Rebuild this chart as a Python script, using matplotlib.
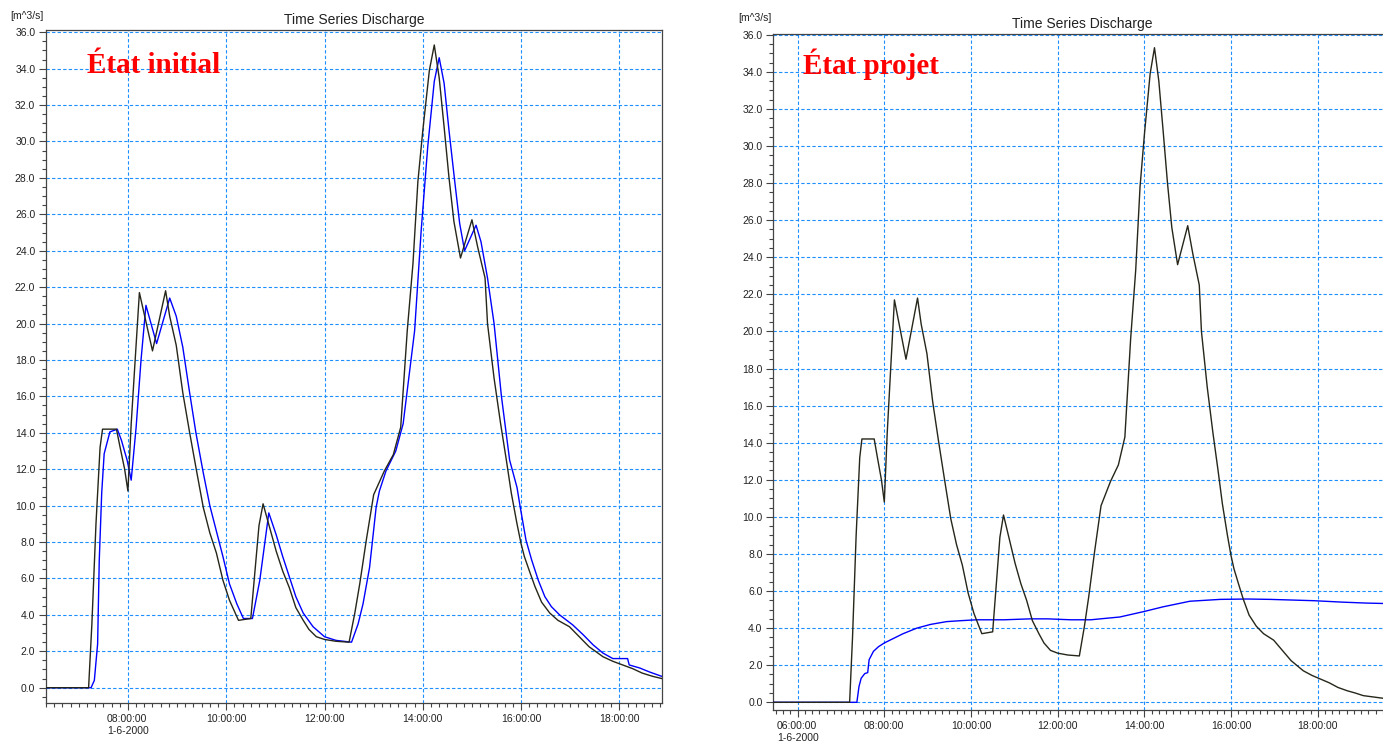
import numpy as np
import matplotlib
matplotlib.use("Agg")
import matplotlib.pyplot as plt
from matplotlib.ticker import MultipleLocator, FuncFormatter

# Inflow hydrograph (black), same in both panels
inflow_times = ["05:00", "07:12", "07:16", "07:21", "07:26", "07:29", "07:46", "07:50",
                "07:56", "08:00", "08:04", "08:08", "08:14", "08:30", "08:46", "08:51",
                "08:59", "09:07", "09:15", "09:23", "09:32", "09:40", "09:48", "09:56",
                "10:04", "10:15", "10:30", "10:40", "10:45", "10:53", "11:01", "11:09",
                "11:17", "11:25", "11:34", "11:41", "11:50", "12:00", "12:14", "12:30",
                "12:37", "12:43", "12:51", "13:00", "13:07", "13:13", "13:24", "13:33",
                "13:41", "13:48", "13:54", "14:00", "14:08", "14:14", "14:20", "14:26",
                "14:32", "14:38", "14:46", "15:00", "15:07", "15:16", "15:19", "15:27",
                "15:35", "15:42", "15:48", "15:55", "16:00", "16:04", "16:11", "16:17",
                "16:25", "16:35", "16:45", "16:59", "17:11", "17:23", "17:40", "17:52",
                "18:04", "18:16", "18:28", "18:41", "18:52", "19:03", "19:30", "19:45"]
inflow_q = [0.0, 0.0, 3.5, 9.0, 13.2, 14.2, 14.2, 13.3,
            12.0, 10.8, 14.5, 17.4, 21.7, 18.5, 21.8, 20.4,
            18.8, 16.2, 14.1, 12.1, 9.9, 8.5, 7.4, 5.9,
            4.8, 3.7, 3.8, 8.9, 10.1, 8.8, 7.5, 6.4,
            5.5, 4.4, 3.7, 3.2, 2.8, 2.65, 2.55, 2.5,
            4.1, 5.7, 8.1, 10.6, 11.3, 11.9, 12.8, 14.3,
            19.6, 23.3, 27.8, 30.6, 33.9, 35.3, 33.5, 30.8,
            28.0, 25.6, 23.6, 25.7, 24.2, 22.5, 20.0, 17.0,
            14.5, 12.5, 10.7, 9.0, 7.9, 7.2, 6.3, 5.55,
            4.7, 4.1, 3.7, 3.35, 2.8, 2.25, 1.7, 1.45,
            1.25, 1.05, 0.8, 0.62, 0.5, 0.36, 0.22, 0.18]

# Outflow, initial state (blue, left)
initial_times = ["05:00", "07:15", "07:19", "07:23", "07:25", "07:28", "07:31", "07:38",
                 "07:47", "07:52", "07:59", "08:04", "08:10", "08:16", "08:22", "08:35",
                 "08:51", "08:59", "09:07", "09:15", "09:23", "09:32", "09:40", "09:48",
                 "09:56", "10:04", "10:13", "10:21", "10:32", "10:41", "10:52", "11:01",
                 "11:09", "11:17", "11:25", "11:34", "11:46", "12:00", "12:14", "12:33",
                 "12:41", "12:47", "12:55", "13:03", "13:07", "13:15", "13:27", "13:36",
                 "13:50", "13:58", "14:06", "14:14", "14:20", "14:26", "14:32", "14:39",
                 "14:45", "14:51", "15:05", "15:11", "15:19", "15:27", "15:36", "15:46",
                 "15:55", "15:59", "16:06", "16:13", "16:21", "16:29", "16:37", "16:47",
                 "17:03", "17:16", "17:28", "17:40", "17:52", "18:10", "18:12", "18:25",
                 "18:37", "18:52", "19:12"]
initial_q = [0.0, 0.0, 0.4, 2.4, 7.0, 10.7, 12.85, 14.05,
             14.2, 13.6, 12.5, 11.4, 14.3, 18.0, 21.0, 18.9,
             21.4, 20.4, 18.7, 16.3, 14.0, 11.8, 10.0, 8.6,
             7.2, 5.7, 4.6, 3.8, 3.8, 5.9, 9.6, 8.4,
             7.2, 6.1, 5.0, 4.1, 3.35, 2.8, 2.6, 2.5,
             3.5, 4.6, 6.6, 9.9, 10.8, 11.9, 13.0, 14.5,
             19.6, 25.1, 29.7, 33.3, 34.6, 33.2, 30.6, 27.8,
             25.5, 24.0, 25.4, 24.5, 22.5, 20.0, 16.0, 12.5,
             11.0, 9.9, 8.1, 7.0, 5.9, 5.0, 4.45, 4.0,
             3.45, 2.9, 2.35, 1.9, 1.6, 1.6, 1.25, 1.08,
             0.86, 0.62, 0.45]

# Outflow, project state (blue, right)
project_times = ["05:00", "07:22", "07:25", "07:28", "07:33", "07:37", "07:39", "07:45",
                 "07:52", "08:00", "08:13", "08:26", "08:45", "09:04", "09:26", "09:45",
                 "10:08", "10:46", "11:22", "11:46", "12:18", "12:46", "12:59", "13:26",
                 "14:00", "14:26", "15:03", "15:45", "16:22", "16:54", "17:54", "18:35",
                 "19:08", "19:30", "19:45"]
project_q = [0.0, 0.0, 0.86, 1.3, 1.55, 1.6, 2.3, 2.75,
             3.0, 3.2, 3.45, 3.7, 4.0, 4.2, 4.35, 4.4,
             4.45, 4.45, 4.5, 4.5, 4.45, 4.45, 4.5, 4.6,
             4.9, 5.15, 5.45, 5.55, 5.57, 5.55, 5.48, 5.4,
             5.35, 5.33, 5.3]

W, H = 1383, 744
GRID_COLOR = "#1e8fff"
BLACK_LINE = "#26261a"
SPINE = "#444444"


def to_hours(times):
    out = []
    for t in times:
        h, m = t.split(":")
        out.append(int(h) + int(m) / 60.0)
    return np.array(out)


def _fmt_time(first_tick):
    def fmt(v, pos):
        label = "%02d:00:00" % int(round(v))
        if abs(v - first_tick) < 1e-6:
            label += "\n1-6-2000"
        return label
    return fmt


def _style_axes(ax, xlim, ylim):
    ax.set_xlim(*xlim)
    ax.set_ylim(*ylim)
    ax.xaxis.set_major_locator(MultipleLocator(2))
    ax.xaxis.set_minor_locator(MultipleLocator(1 / 6.0))
    first = np.ceil(xlim[0] / 2.0) * 2.0
    ax.xaxis.set_major_formatter(FuncFormatter(_fmt_time(first)))
    ax.yaxis.set_major_locator(MultipleLocator(2))
    ax.yaxis.set_minor_locator(MultipleLocator(0.5))
    ax.yaxis.set_major_formatter(FuncFormatter(lambda v, p: "%.1f" % v))

    ax.grid(True, which="major", color=GRID_COLOR, linestyle=(0, (3, 2)), linewidth=0.8)
    ax.set_axisbelow(True)
    for s in ax.spines.values():
        s.set_color(SPINE)
        s.set_linewidth(0.9)
    ax.tick_params(which="both", direction="out", colors=SPINE, labelcolor="#222222",
                   labelsize=7.5, top=False, right=False)
    ax.tick_params(which="major", length=5, width=0.8)
    ax.tick_params(which="minor", length=3, width=0.8)
    ax.tick_params(axis="x", pad=3)
    ax.tick_params(axis="y", pad=2.5)
    for lab in ax.get_xticklabels():
        lab.set_multialignment("left")


def _panel(fig, rect, xlim, ylim, blue_t, blue_q, label, label_xy, unit_xy):
    ax = fig.add_axes(rect)
    ax.plot(to_hours(blue_t), blue_q, color="#0000ff", linewidth=1.0, zorder=3)
    ax.plot(to_hours(inflow_times), inflow_q, color=BLACK_LINE, linewidth=1.0, zorder=3)
    _style_axes(ax, xlim, ylim)
    ax.set_title("Time Series Discharge", fontsize=10, color="#222222", pad=4)
    fig.text(unit_xy[0] / W, 1 - unit_xy[1] / H, "[m^3/s]", fontsize=7.5,
             color="#222222", va="center", ha="left")
    fig.text(label_xy[0] / W, 1 - label_xy[1] / H, label, fontsize=21,
             fontweight="bold", family="Liberation Serif", color="#ff0000",
             va="baseline", ha="left")
    return ax


def _main():
    plt.rcParams["font.family"] = ["Liberation Sans", "DejaVu Sans"]
    fig = plt.figure(figsize=(W / 100.0, H / 100.0), dpi=100)
    fig.patch.set_facecolor("white")

    # left: initial state
    _panel(fig, [45.7 / W, 41 / H, 616.3 / W, 673.5 / H],
           (6.327, 18.867), (-0.84, 36.15),
           initial_times, initial_q, "État initial", (87, 73), (10, 16))
    # right: project state (runs off the right edge)
    _panel(fig, [773 / W, 34 / H, 618 / W, 676.5 / H],
           (5.432, 19.69), (-0.415, 36.065),
           project_times, project_q, "État projet", (803, 74), (738, 18))

    fig.savefig("out.png", dpi=100)


if __name__ == "__main__":
    _main()
